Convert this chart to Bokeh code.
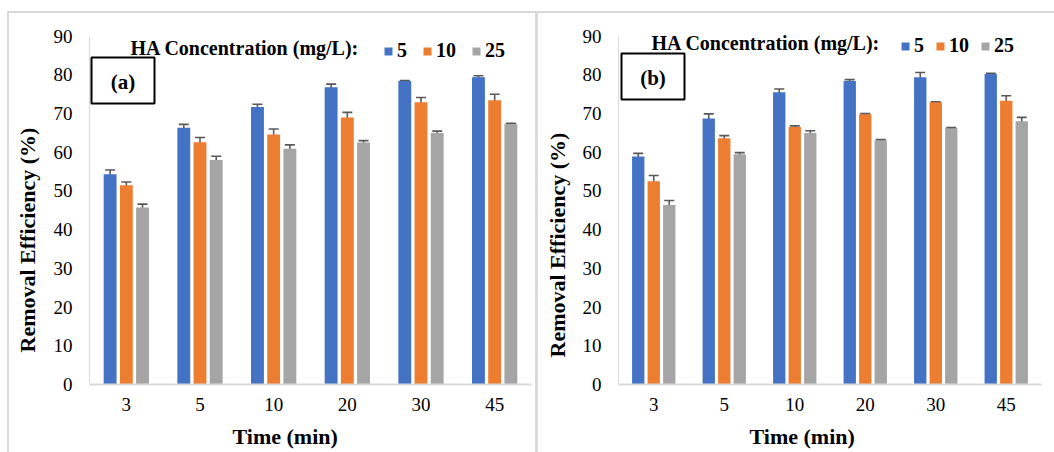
from bokeh.plotting import figure
from bokeh.models import (ColumnDataSource, FactorRange, Range1d, FixedTicker, Whisker, TeeHead,
                          Legend, LegendItem, Label, BoxAnnotation, Title)
from bokeh.transform import dodge
from bokeh.layouts import row
from bokeh.embed import file_html
from bokeh.resources import INLINE

# ---------------- data ----------------
times = ["3", "5", "10", "20", "30", "45"]
series_names = ["5", "10", "25"]

# panel (a)
a_ha5 = [54.3, 66.3, 71.7, 76.8, 78.4, 79.4]
a_ha5_err = [1.1, 0.9, 0.7, 0.8, 0.15, 0.35]
a_ha10 = [51.5, 62.6, 64.6, 69.0, 72.9, 73.4]
a_ha10_err = [0.8, 1.2, 1.4, 1.3, 1.25, 1.6]
a_ha25 = [45.7, 58.0, 60.9, 62.5, 65.0, 67.3]
a_ha25_err = [0.9, 0.95, 1.0, 0.5, 0.45, 0.15]

# panel (b)
b_ha5 = [58.9, 68.7, 75.5, 78.4, 79.4, 80.2]
b_ha5_err = [0.8, 1.2, 0.85, 0.35, 1.2, 0.2]
b_ha10 = [52.5, 63.6, 66.5, 69.8, 72.9, 73.3]
b_ha10_err = [1.5, 0.7, 0.3, 0.2, 0.1, 1.3]
b_ha25 = [46.4, 59.5, 64.95, 63.1, 66.2, 68.0]
b_ha25_err = [1.15, 0.4, 0.6, 0.2, 0.15, 1.0]

y_ticks = [0, 10, 20, 30, 40, 50, 60, 70, 80, 90]

colors = ["#4472C4", "#ED7D31", "#A5A5A5"]
FONT = "Liberation Serif"
AXIS_GRAY = "#d9d9d9"
ERR = "#595959"


def gline(x, y, w, h):
    return f"linear-gradient({AXIS_GRAY}, {AXIS_GRAY}) {x}px {y}px / {w}px {h}px no-repeat"


def make_panel(tag, vals, errs, width, mb_left, mb_right, cfg):
    # y range runs a little past 90 so the legend text above the plot area is not clipped;
    # the axis itself is bounded to 0..90
    p = figure(x_range=FactorRange(*times), y_range=Range1d(0, 93),
               width=width, height=452, output_backend="svg", toolbar_location=None,
               min_border_left=mb_left, min_border_right=mb_right,
               min_border_top=24, min_border_bottom=68)
    p.outline_line_color = None
    p.xgrid.visible = False
    p.ygrid.visible = False
    p.background_fill_color = "white"
    p.border_fill_alpha = 0
    p.styles = {"background": ", ".join(cfg["frame_css"]) + ", white"}

    # axes
    p.yaxis.ticker = FixedTicker(ticks=y_ticks)
    p.yaxis.bounds = (0, 90)
    for ax in (p.xaxis[0], p.yaxis[0]):
        ax.major_tick_line_color = None
        ax.minor_tick_line_color = None
        ax.major_tick_out = 0
        ax.major_tick_in = 0
        ax.major_label_text_font = FONT
        ax.major_label_text_font_size = "19px"
        ax.major_label_text_color = "black"
        ax.axis_line_color = AXIS_GRAY
    p.xaxis.axis_line_width = 2
    p.yaxis.axis_line_width = 1
    p.yaxis.major_label_standoff = 17
    p.xaxis.major_label_standoff = 13

    offsets = [-0.22, 0.0, 0.22]
    items = []
    for name, v, e, off, col in zip(series_names, vals, errs, offsets, colors):
        src = ColumnDataSource(dict(t=times, v=v, up=[a + b for a, b in zip(v, e)],
                                    lo=[a - b for a, b in zip(v, e)]))
        r = p.vbar(x=dodge("t", off, range=p.x_range), top="v", width=0.175, source=src,
                   fill_color=col, line_color=None)
        w = Whisker(source=src, base=dodge("t", off, range=p.x_range), upper="up", lower="lo",
                    line_color=ERR, line_width=1.6,
                    upper_head=TeeHead(size=10, line_color=ERR, line_width=1.6),
                    lower_head=TeeHead(size=10, line_color=ERR, line_width=1.6))
        p.add_layout(w)
        items.append(LegendItem(label=name, renderers=[r]))

    leg = Legend(items=items, orientation="horizontal", location=cfg["leg_loc"],
                 padding=0, margin=0, spacing=cfg["leg_spacing"], label_standoff=4,
                 glyph_width=10, glyph_height=10, label_height=20, label_width=1,
                 border_line_color=None, background_fill_alpha=0,
                 label_text_font=FONT, label_text_font_style="bold",
                 label_text_font_size="20px", label_text_color="black")
    p.add_layout(leg, "center")

    p.add_layout(Label(x=cfg["ha_x"], y=cfg["ha_y"], x_units="screen", y_units="screen",
                       text="HA Concentration (mg/L):", text_font=FONT, text_font_style="bold",
                       text_font_size="20px", text_color="black", text_align="left",
                       text_baseline="middle"))

    # axis titles (as titles in the side panels)
    p.add_layout(Title(text="Time (min)", align="left", offset=cfg["xt_off"],
                       vertical_align="top", standoff=0, padding=(0, 0, 10, 0),
                       text_font=FONT, text_font_style="bold", text_font_size="22px",
                       text_color="black"), "below")
    p.add_layout(Title(text="Removal Efficiency (%)", align="left", offset=cfg["yt_off"],
                       vertical_align="bottom", standoff=cfg["yt_standoff"],
                       text_font=FONT, text_font_style="bold", text_font_size="22px",
                       text_color="black"), "left")

    # (a)/(b) box
    bl, br, bt, bb = cfg["box"]
    p.add_layout(BoxAnnotation(left=bl, right=br, top=bt, bottom=bb,
                               left_units="screen", right_units="screen",
                               top_units="screen", bottom_units="screen",
                               fill_alpha=0, line_color="black", line_alpha=1, line_width=2))
    p.add_layout(Label(x=(bl + br) / 2, y=(bt + bb) / 2 - 1, x_units="screen", y_units="screen",
                       text=tag, text_font=FONT, text_font_style="bold",
                       text_font_size="21px", text_color="black",
                       text_align="center", text_baseline="middle"))
    return p


pa = make_panel("(a)", [a_ha5, a_ha10, a_ha25], [a_ha5_err, a_ha10_err, a_ha25_err],
                532, 89, 1,
                dict(leg_loc=(294, 322), leg_spacing=15, ha_x=41, ha_y=337,
                     xt_off=143, yt_off=32, yt_standoff=22,
                     box=(2, 65, 327, 281),
                     frame_css=[gline(7, 11, 2, 441), gline(7, 11, 525, 2)]))
pb = make_panel("(b)", [b_ha5, b_ha10, b_ha25], [b_ha5_err, b_ha10_err, b_ha25_err],
                522, 86, 13,
                dict(leg_loc=(282, 327), leg_spacing=11, ha_x=33, ha_y=342,
                     xt_off=131, yt_off=27, yt_standoff=19,
                     box=(3, 66, 331, 285),
                     frame_css=[gline(0, 11, 522, 2), gline(3, 11, 3, 441)]))

layout = row(pa, pb, spacing=0)
open("out.html", "w").write(file_html(layout, INLINE))
